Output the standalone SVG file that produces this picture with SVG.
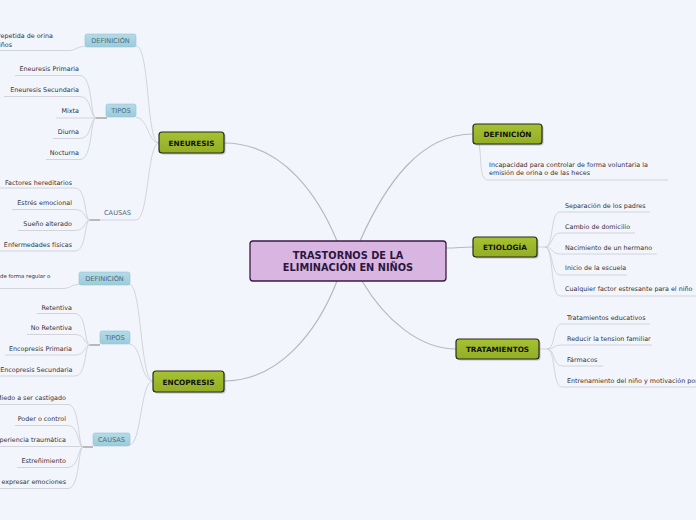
<svg xmlns="http://www.w3.org/2000/svg" width="696" height="520" viewBox="0 0 696 520">
<defs>
<linearGradient id="gMain" x1="0" y1="0" x2="0" y2="1"><stop offset="0" stop-color="#a6c232"/><stop offset="1" stop-color="#93ad26"/></linearGradient>
<linearGradient id="gSub" x1="0" y1="0" x2="0" y2="1"><stop offset="0" stop-color="#b4dbe7"/><stop offset="1" stop-color="#9ccbdb"/></linearGradient>
<style>
.leaf{font-family:"DejaVu Sans",Verdana,sans-serif;font-size:6.4px;fill:#333333}
.sub{font-family:"DejaVu Sans",Verdana,sans-serif;font-size:6.6px;fill:#4d6b7c;text-anchor:middle}
.main{font-family:"DejaVu Sans",Verdana,sans-serif;font-size:7.3px;font-weight:bold;fill:#111111;text-anchor:middle}
.ctr{font-family:"DejaVu Sans",Verdana,sans-serif;font-size:9.8px;font-weight:bold;fill:#2c1640;text-anchor:middle}
.mrect{fill:url(#gMain);stroke:#2a2a1c;stroke-width:1.2}
.shadow{fill:#000000;opacity:0.22}
.srect{fill:url(#gSub);stroke:#94c5d4;stroke-width:0.6}
.c1{fill:none;stroke:#b8b8be;stroke-width:1.2}
.c2{fill:none;stroke:#cfd0d6;stroke-width:0.9}
.j{fill:none;stroke:#b9b9bb;stroke-width:2}
.r{text-anchor:end}
</style>
</defs>
<rect width="696" height="520" fill="#f3f5fd"/>
<g id="connectors">
<path class="c1" d="M224,143 C285,143 320,200 337,241"/>
<path class="c1" d="M360,241 C385,185 420,134 473,134"/>
<path class="c1" d="M337,281 C318,330 280,381 224,381"/>
<path class="c1" d="M362,281 C385,320 420,349 456,349"/>
<path class="c1" d="M446,248 C458,248 462,247 473,247"/>
<path class="c2" d="M136,46 C150,46 146,143 159,143"/>
<path class="c2" d="M136,117.5 C148,117.5 148,143 159,143"/>
<path class="c2" d="M100,220 H136 C149,220 147,143 159,143"/>
<path class="c2" d="M0,50.5 H68 C77,50.5 76,46.5 85,46.5"/>
<path class="c2" d="M15,75.5 H80 C93,75.5 90,118 96,118"/>
<path class="c2" d="M4,96.5 H80 C92,96.5 90,118 96,118"/>
<path class="c2" d="M56,118 H96"/>
<path class="c2" d="M53,138.5 H80 C92,138.5 90,118 96,118"/>
<path class="c2" d="M46,159.5 H80 C93,159.5 90,118 96,118"/>
<path class="j" d="M96,118 H107"/>
<path class="c2" d="M0,188 H75 C87,188 84,220 90,220"/>
<path class="c2" d="M12,209.5 H75 C86,209.5 84,220 90,220"/>
<path class="c2" d="M18,230.5 H75 C86,230.5 84,220 90,220"/>
<path class="c2" d="M0,251 H75 C87,251 84,220 90,220"/>
<path class="j" d="M90,220 H100"/>
<path class="c2" d="M129,284 C142,284 140,381 153,381"/>
<path class="c2" d="M129,344 C142,344 140,381 153,381"/>
<path class="c2" d="M129,445 C142,445 140,381 153,381"/>
<path class="c2" d="M0,288.5 H62 C72,288.5 70,284.5 79,284.5"/>
<path class="c2" d="M37,313.5 H75 C87,313.5 84,345 90,345"/>
<path class="c2" d="M27,334.5 H75 C86,334.5 84,345 90,345"/>
<path class="c2" d="M5,355 H75 C86,355 84,345 90,345"/>
<path class="c2" d="M0,376 H75 C87,376 84,345 90,345"/>
<path class="j" d="M90,345 H100"/>
<path class="c2" d="M0,404.5 H68 C80,404.5 78,447 83,447"/>
<path class="c2" d="M15,425.5 H68 C79,425.5 78,447 83,447"/>
<path class="c2" d="M0,446.5 H83"/>
<path class="c2" d="M17,467.5 H68 C79,467.5 78,447 83,447"/>
<path class="c2" d="M0,488.5 H68 C80,488.5 78,447 83,447"/>
<path class="j" d="M83,447 H93"/>
<path class="c2" d="M479,144 C482,160 479,180 488,180 H668"/>
<path class="c2" d="M537,247 H545 C554,247 550,212 560,212 H650"/>
<path class="c2" d="M545,247 C553,247 551,233 560,233 H635"/>
<path class="c2" d="M545,247 C553,247 551,254 560,254 H657"/>
<path class="c2" d="M545,247 C553,247 551,275 560,275 H627"/>
<path class="c2" d="M545,247 C554,247 550,296 560,296 H696"/>
<path class="c2" d="M539,349 H547 C556,349 552,324 562,324 H650"/>
<path class="c2" d="M547,349 C555,349 553,345 562,345 H652"/>
<path class="c2" d="M547,349 C555,349 553,366 562,366 H603"/>
<path class="c2" d="M547,349 C556,349 552,387 562,387 H696"/>
</g>
<g id="center">
<rect x="250" y="241" width="196" height="40" rx="3" fill="#d9b6e1" stroke="#3d1947" stroke-width="1.3"/>
<text class="ctr" x="348" y="259">TRASTORNOS DE LA</text>
<text class="ctr" x="348" y="271">ELIMINACIÓN EN NIÑOS</text>
</g>
<g id="eneuresis">
<rect class="shadow" x="160.5" y="133.5" width="65" height="21" rx="3"/>
<rect class="mrect" x="159" y="132" width="65" height="21" rx="3"/>
<text class="main" x="191.5" y="145.5">ENEURESIS</text>
</g>
<g id="en-definicion">
<rect class="srect" x="85" y="34" width="51" height="13" rx="2"/>
<text class="sub" x="110.5" y="43">DEFINICIÓN</text>
<text class="leaf r" x="53" y="37.5">repetida de orina</text>
<text class="leaf r" x="12" y="46.5">niños</text>
</g>
<g id="en-tipos">
<rect class="srect" x="106" y="104" width="30" height="13" rx="2"/>
<text class="sub" x="121" y="113">TIPOS</text>
<text class="leaf r" x="79" y="70.5">Eneuresis Primaria</text>
<text class="leaf r" x="79" y="91.5">Eneuresis Secundaria</text>
<text class="leaf r" x="79" y="112.5">Mixta</text>
<text class="leaf r" x="79" y="133.5">Diurna</text>
<text class="leaf r" x="79" y="154.5">Nocturna</text>
</g>
<g id="en-causas">
<text class="sub" x="117.5" y="214.5">CAUSAS</text>
<text class="leaf r" x="72" y="184.5">Factores hereditarios</text>
<text class="leaf r" x="72" y="204.5">Estrés emocional</text>
<text class="leaf r" x="72" y="225.5">Sueño alterado</text>
<text class="leaf r" x="72" y="246.5">Enfermedades físicas</text>
</g>
<g id="encopresis">
<rect class="shadow" x="154.5" y="372.5" width="71" height="21" rx="3"/>
<rect class="mrect" x="153" y="371" width="71" height="21" rx="3"/>
<text class="main" x="188.5" y="384.5">ENCOPRESIS</text>
</g>
<g id="enc-definicion">
<rect class="srect" x="79" y="272" width="51" height="13" rx="2"/>
<text class="sub" x="104.5" y="281">DEFINICIÓN</text>
<text class="leaf" x="0" y="278" style="font-size:5.4px">de forma regular o</text>
</g>
<g id="enc-tipos">
<rect class="srect" x="100" y="331" width="30" height="13" rx="2"/>
<text class="sub" x="115" y="340">TIPOS</text>
<text class="leaf r" x="72" y="309.5">Retentiva</text>
<text class="leaf r" x="72" y="329.5">No Retentiva</text>
<text class="leaf r" x="72" y="350.5">Encopresis Primaria</text>
<text class="leaf r" x="72.5" y="371.5">Encopresis Secundaria</text>
</g>
<g id="enc-causas">
<rect class="srect" x="93" y="433" width="37" height="13" rx="2"/>
<text class="sub" x="111.5" y="442">CAUSAS</text>
<text class="leaf r" x="66" y="399.5">Miedo a ser castigado</text>
<text class="leaf r" x="66" y="420.5">Poder o control</text>
<text class="leaf r" x="66" y="441.5">Experiencia traumática</text>
<text class="leaf r" x="66" y="462.5">Estreñimiento</text>
<text class="leaf r" x="66" y="483.5">expresar emociones</text>
</g>
<g id="definicion">
<rect class="shadow" x="474.5" y="125.5" width="69" height="20" rx="3"/>
<rect class="mrect" x="473" y="124" width="69" height="20" rx="3"/>
<text class="main" x="507.5" y="136.5">DEFINICIÓN</text>
<text class="leaf" x="489" y="166.5">Incapacidad para controlar de forma voluntaria la</text>
<text class="leaf" x="489" y="174.5">emisión de orina o de las heces</text>
</g>
<g id="etiologia">
<rect class="shadow" x="474.5" y="238.5" width="64" height="20" rx="3"/>
<rect class="mrect" x="473" y="237" width="64" height="20" rx="3"/>
<text class="main" x="505" y="249.5">ETIOLOGÍA</text>
<text class="leaf" x="565" y="207.5">Separación de los padres</text>
<text class="leaf" x="565" y="228.5">Cambio de domicilio</text>
<text class="leaf" x="565" y="249.5">Nacimiento de un hermano</text>
<text class="leaf" x="565" y="269.5">Inicio de la escuela</text>
<text class="leaf" x="565" y="290.5">Cualquier factor estresante para el niño</text>
</g>
<g id="tratamientos">
<rect class="shadow" x="457.5" y="340.5" width="83" height="20" rx="3"/>
<rect class="mrect" x="456" y="339" width="83" height="20" rx="3"/>
<text class="main" x="497.5" y="351.5">TRATAMIENTOS</text>
<text class="leaf" x="567" y="319.5">Tratamientos educativos</text>
<text class="leaf" x="567" y="340.5">Reducir la tension familiar</text>
<text class="leaf" x="567" y="361.5">Fármacos</text>
<text class="leaf" x="567" y="382.5">Entrenamiento del niño y motivación por</text>
</g>
</svg>
